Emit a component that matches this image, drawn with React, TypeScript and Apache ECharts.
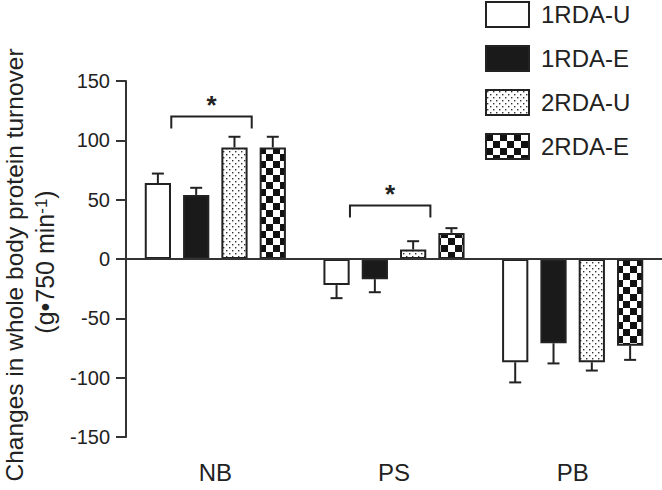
import React, { useEffect, useRef } from "react";
import * as echarts from "echarts";

const categories = ["NB", "PS", "PB"];
const seriesNames = ["1RDA-U", "1RDA-E", "2RDA-U", "2RDA-E"];
const rda1U = [64, -22, -87];
const rda1E = [54, -17, -71];
const rda2U = [94, 8, -87];
const rda2E = [94, 22, -73];
const rda1UErr = [8, 11, 17];
const rda1EErr = [6, 11, 17];
const rda2UErr = [9, 7, 7];
const rda2EErr = [9, 4, 12];
const yTicks = [-150, -100, -50, 0, 50, 100, 150];
const sigCategories = [0, 1];
const sigLevels = [120, 45];

const FONT = "'Liberation Sans', Arial, Helvetica, sans-serif";
const INK = "#222";
const CAT_GAP = 0.21;
const BAR_GAP = 0.46;

function makeDots(): HTMLCanvasElement {
  const c = document.createElement("canvas");
  c.width = 6;
  c.height = 6;
  const g = c.getContext("2d")!;
  g.fillStyle = "#fff";
  g.fillRect(0, 0, 6, 6);
  g.fillStyle = "#333";
  g.fillRect(1, 1, 1.4, 1.4);
  g.fillRect(4, 4, 1.4, 1.4);
  return c;
}

function makeChecker(): HTMLCanvasElement {
  const s = 7;
  const c = document.createElement("canvas");
  c.width = s * 2;
  c.height = s * 2;
  const g = c.getContext("2d")!;
  g.fillStyle = "#fff";
  g.fillRect(0, 0, s * 2, s * 2);
  g.fillStyle = "#111";
  g.fillRect(0, 0, s, s);
  g.fillRect(s, s, s, s);
  return c;
}

export default function App() {
  const ref = useRef<HTMLDivElement>(null);

  useEffect(() => {
    if (!ref.current) return;
    const chart = echarts.init(ref.current, null, { renderer: "svg" });
    const values = [rda1U, rda1E, rda2U, rda2E];
    const errs = [rda1UErr, rda1EErr, rda2UErr, rda2EErr];
    const fills: any[] = [
      "#fff",
      "#1a1a1a",
      { image: makeDots(), repeat: "repeat" },
      { image: makeChecker(), repeat: "repeat" },
    ];
    const n = seriesNames.length;

    const slotInfo = (api: any) => {
      const band = api.size([1, 0])[0];
      const w = (band - band * CAT_GAP) / (n + (n - 1) * BAR_GAP);
      return { w, step: w * (1 + BAR_GAP) };
    };

    const errData: number[][] = [];
    values.forEach((vals, si) =>
      vals.forEach((v, ci) => errData.push([ci, si, v, errs[si][ci]]))
    );

    const sigData = sigCategories.map((c, i) => [c, sigLevels[i]]);

    const barSeries = seriesNames.map((name, si) => ({
      name,
      type: "bar",
      data: values[si],
      barCategoryGap: CAT_GAP * 100 + "%",
      barGap: BAR_GAP * 100 + "%",
      itemStyle: { color: fills[si], borderColor: INK, borderWidth: 2 },
      z: 2,
      ...(si === 0
        ? {
            markLine: {
              silent: true,
              symbol: "none",
              label: { show: false },
              lineStyle: { color: "#333", width: 2, type: "solid" },
              data: [{ yAxis: 0 }],
              z: 5,
            },
          }
        : {}),
    }));

    chart.setOption({
      animation: false,
      textStyle: { fontFamily: FONT },
      grid: { left: 126, right: 0, top: 81, bottom: 53, containLabel: false },
      legend: {
        orient: "vertical",
        left: 485,
        top: 1,
        padding: 0,
        icon: "rect",
        itemWidth: 43,
        itemHeight: 25,
        itemGap: 17,
        data: seriesNames,
        textStyle: { fontSize: 24, color: INK, fontFamily: FONT, padding: [0, 0, 0, 7] },
      },
      xAxis: {
        type: "category",
        data: categories,
        axisLine: { lineStyle: { color: "#333", width: 2 } },
        axisTick: { alignWithLabel: true, length: 10, lineStyle: { color: "#333", width: 2 } },
        axisLabel: { fontSize: 24, color: INK, margin: 23, fontFamily: FONT },
      },
      yAxis: {
        type: "value",
        min: yTicks[0],
        max: yTicks[yTicks.length - 1],
        interval: 50,
        axisLine: { show: true, lineStyle: { color: "#333", width: 2 } },
        axisTick: { show: true, length: 10, lineStyle: { color: "#333", width: 2 } },
        axisLabel: { fontSize: 20, color: INK, margin: 16, fontFamily: FONT },
        splitLine: { show: false },
      },
      graphic: [
        {
          type: "text",
          x: 14,
          y: 265,
          rotation: Math.PI / 2,
          style: {
            text: "Changes in whole body protein turnover",
            font: `24.5px ${FONT}`,
            fill: INK,
            align: "center",
            verticalAlign: "middle",
          },
        },
        {
          type: "text",
          x: 45,
          y: 262,
          rotation: Math.PI / 2,
          style: {
            text: "(g\u2022750 min{sup|-1})",
            font: `25px ${FONT}`,
            fill: INK,
            align: "center",
            verticalAlign: "middle",
            rich: {
              sup: { fontSize: 17, verticalAlign: "top", fill: INK, fontFamily: FONT },
            },
          },
        },
      ],
      series: [
        ...barSeries,
        {
          type: "custom",
          name: "err",
          data: errData,
          encode: { x: 0, y: 2 },
          z: 3,
          renderItem: (params: any, api: any) => {
            const ci = api.value(0);
            const si = api.value(1);
            const v = api.value(2);
            const e = api.value(3);
            const { step } = slotInfo(api);
            const off = (si - (n - 1) / 2) * step;
            const p0 = api.coord([ci, v]);
            const p1 = api.coord([ci, v + (v >= 0 ? e : -e)]);
            const x = p0[0] + off;
            const cap = 6;
            const st = { stroke: INK, lineWidth: 2 };
            return {
              type: "group",
              children: [
                { type: "line", shape: { x1: x, y1: p0[1], x2: x, y2: p1[1] }, style: st },
                { type: "line", shape: { x1: x - cap, y1: p1[1], x2: x + cap, y2: p1[1] }, style: st },
              ],
            };
          },
        },
        {
          type: "custom",
          name: "sig",
          data: sigData,
          encode: { x: 0, y: 1 },
          z: 3,
          renderItem: (params: any, api: any) => {
            const ci = api.value(0);
            const lvl = api.value(1);
            const { step } = slotInfo(api);
            const p = api.coord([ci, lvl]);
            const pl = api.coord([ci, lvl - 10]);
            const xl = p[0] - 1.15 * step;
            const xr = p[0] + 0.95 * step;
            const st = { stroke: INK, lineWidth: 2, fill: "none" };
            return {
              type: "group",
              children: [
                {
                  type: "polyline",
                  shape: { points: [[xl, pl[1]], [xl, p[1]], [xr, p[1]], [xr, pl[1]]] },
                  style: st,
                },
                {
                  type: "text",
                  x: (xl + xr) / 2,
                  y: p[1] + 1,
                  style: {
                    text: "*",
                    font: `bold 26px ${FONT}`,
                    fill: INK,
                    align: "center",
                    verticalAlign: "bottom",
                  },
                },
              ],
            };
          },
        },
      ],
    });
    return () => chart.dispose();
  }, []);

  return (
    <div
      ref={ref}
      style={{ position: "absolute", left: 0, top: 0, width: 662, height: 490, background: "#fff" }}
    />
  );
}
